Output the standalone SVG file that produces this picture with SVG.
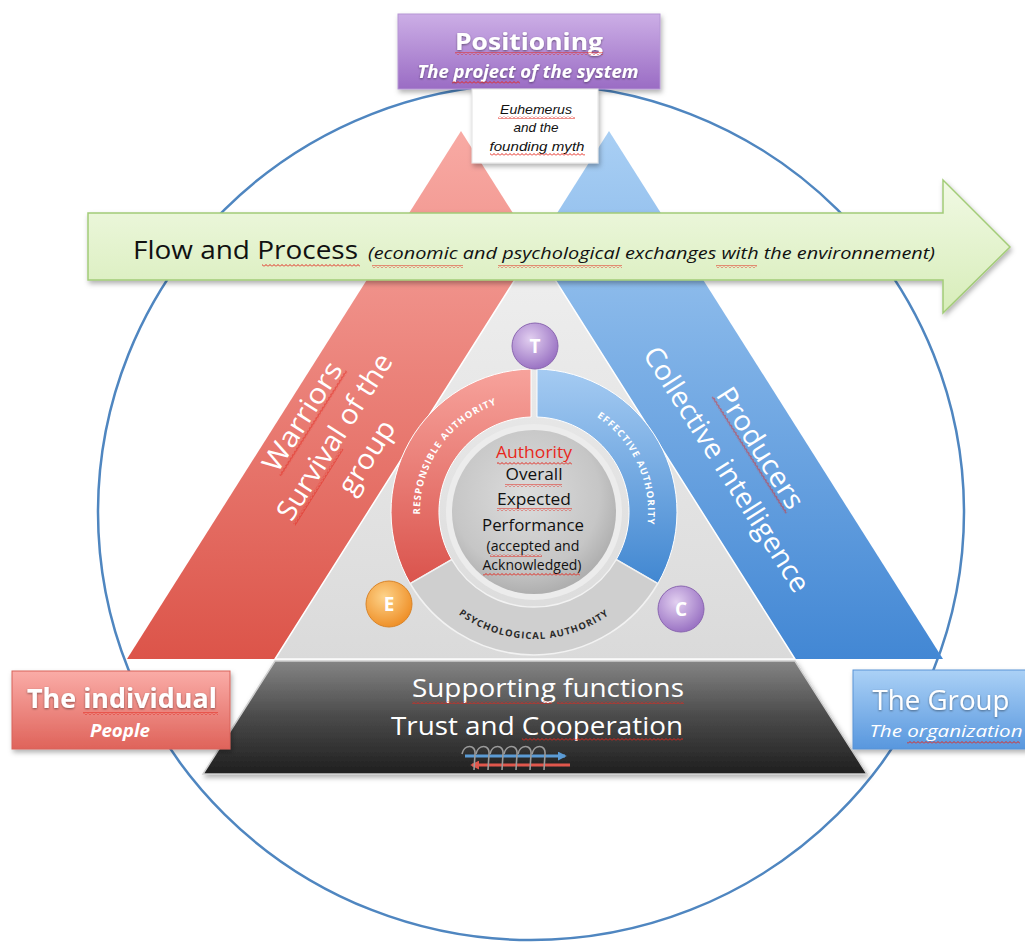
<svg xmlns="http://www.w3.org/2000/svg" width="1025" height="944" viewBox="0 0 1025 944">
  <defs>
    <style>
      .sans { font-family: "Open Sans", "Liberation Sans", sans-serif; }
      .arial { font-family: "Liberation Sans", Arial, sans-serif; }
      .wt { fill: #ffffff; }
      .bk { fill: #111111; }
      .arcTxt { font-family: "Open Sans", "Liberation Sans", sans-serif; font-weight: 700; font-size: 9.5px; letter-spacing: 1.1px; }
    </style>
    <pattern id="sq" width="4" height="3" patternUnits="userSpaceOnUse">
      <path d="M0,2.5 L2,0.5 L4,2.5" fill="none" stroke="#e3261c" stroke-width="1"/>
    </pattern>
    <filter id="sh" x="-10%" y="-15%" width="125%" height="140%">
      <feDropShadow dx="1.5" dy="3" stdDeviation="2.5" flood-color="#000" flood-opacity="0.3"/>
    </filter>
    <filter id="tg" x="-5%" y="-20%" width="110%" height="150%">
      <feDropShadow dx="0" dy="1" stdDeviation="0.8" flood-color="#000" flood-opacity="0.45"/>
    </filter>
    <linearGradient id="gRed" x1="0" y1="131" x2="0" y2="660" gradientUnits="userSpaceOnUse">
      <stop offset="0" stop-color="#f8aaa4"/>
      <stop offset="1" stop-color="#dc5449"/>
    </linearGradient>
    <linearGradient id="gBlue" x1="0" y1="131" x2="0" y2="660" gradientUnits="userSpaceOnUse">
      <stop offset="0" stop-color="#a9cff4"/>
      <stop offset="1" stop-color="#4287d4"/>
    </linearGradient>
    <linearGradient id="gGray" x1="0" y1="248" x2="0" y2="660" gradientUnits="userSpaceOnUse">
      <stop offset="0" stop-color="#efefef"/>
      <stop offset="1" stop-color="#dadada"/>
    </linearGradient>
    <linearGradient id="gDark" x1="0" y1="660" x2="0" y2="774" gradientUnits="userSpaceOnUse">
      <stop offset="0" stop-color="#858585"/>
      <stop offset="0.5" stop-color="#4a4a4a"/>
      <stop offset="1" stop-color="#1f1f1f"/>
    </linearGradient>
    <linearGradient id="gArrow" x1="0" y1="180" x2="0" y2="313" gradientUnits="userSpaceOnUse">
      <stop offset="0" stop-color="#f1f9e4"/>
      <stop offset="1" stop-color="#d7edb9"/>
    </linearGradient>
    <linearGradient id="gPurple" x1="0" y1="0" x2="0" y2="1">
      <stop offset="0" stop-color="#ccaee6"/>
      <stop offset="1" stop-color="#9a6cc4"/>
    </linearGradient>
    <linearGradient id="gRedBox" x1="0" y1="0" x2="0" y2="1">
      <stop offset="0" stop-color="#faaca7"/>
      <stop offset="1" stop-color="#df635a"/>
    </linearGradient>
    <linearGradient id="gBlueBox" x1="0" y1="0" x2="0" y2="1">
      <stop offset="0" stop-color="#abd1f6"/>
      <stop offset="1" stop-color="#5897de"/>
    </linearGradient>
    <linearGradient id="gRedArc" x1="0" y1="369" x2="0" y2="590" gradientUnits="userSpaceOnUse">
      <stop offset="0" stop-color="#f7a39c"/>
      <stop offset="1" stop-color="#d9514a"/>
    </linearGradient>
    <linearGradient id="gBlueArc" x1="0" y1="369" x2="0" y2="590" gradientUnits="userSpaceOnUse">
      <stop offset="0" stop-color="#a5cbf2"/>
      <stop offset="1" stop-color="#3e85d0"/>
    </linearGradient>
    <radialGradient id="gDisk" cx="0.45" cy="0.4" r="0.6">
      <stop offset="0" stop-color="#dcdcdc"/>
      <stop offset="0.75" stop-color="#c6c6c6"/>
      <stop offset="1" stop-color="#afafaf"/>
    </radialGradient>
    <radialGradient id="gPurpleBall" cx="0.4" cy="0.35" r="0.65">
      <stop offset="0" stop-color="#e2cff0"/>
      <stop offset="1" stop-color="#9b74c4"/>
    </radialGradient>
    <radialGradient id="gOrangeBall" cx="0.4" cy="0.35" r="0.65">
      <stop offset="0" stop-color="#fdd38a"/>
      <stop offset="1" stop-color="#ef912a"/>
    </radialGradient>
    <marker id="ahBlue" viewBox="0 0 10 10" refX="8" refY="5" markerWidth="3" markerHeight="3" orient="auto">
      <path d="M0,0 L10,5 L0,10 Z" fill="#5b9bd5"/>
    </marker>
    <marker id="ahRed" viewBox="0 0 10 10" refX="8" refY="5" markerWidth="3" markerHeight="3" orient="auto">
      <path d="M0,0 L10,5 L0,10 Z" fill="#e0574c"/>
    </marker>
    <!-- text paths for the ring labels -->
    <path id="pRed" d="M440.6,577.4 A114,114 0 0 1 563.5,401.9"/>
    <path id="pBlue" d="M534,398 A114,114 0 0 1 621.3,585.3"/>
    <path id="pPsy" d="M424,575.5 A127,127 0 0 0 644,575.5"/>
  </defs>

  <rect width="1025" height="944" fill="#ffffff"/>

  <!-- outer environment circle -->
  <ellipse cx="531" cy="512" rx="433" ry="428" fill="none" stroke="#4f86c0" stroke-width="2.5"/>

  <!-- Warriors band -->
  <g id="warriors">
    <polygon points="461,131 127,659 795,659" fill="url(#gRed)"/>
  </g>

  <!-- Producers band -->
  <g id="producers">
    <polygon points="609,131 275,659 943,659" fill="url(#gBlue)"/>
  </g>

  <!-- central authority triangle -->
  <g id="core-triangle">
    <polygon points="535,248 275,659 795,659" fill="url(#gGray)" stroke="#ffffff" stroke-width="1.5"/>
  </g>

  <!-- Flow and Process arrow -->
  <g id="flow">
    <path d="M88,213 H943 V180 L1010,247 L943,313 V280 H88 Z" fill="url(#gArrow)" stroke="#a3cc78" stroke-width="1.5" filter="url(#sh)"/>
    <text class="sans bk" x="133" y="259" font-size="25" textLength="225" lengthAdjust="spacingAndGlyphs">Flow and Process</text>
    <text class="sans bk" x="368" y="259" font-size="16.5" font-style="italic" textLength="567" lengthAdjust="spacingAndGlyphs">(economic and psychological exchanges with the environnement)</text>
    <rect x="262" y="264" width="98" height="3" fill="url(#sq)"/>
    <rect x="372" y="265" width="91" height="3" fill="url(#sq)"/>
    <rect x="498" y="265" width="124" height="3" fill="url(#sq)"/>
    <rect x="716" y="265" width="41" height="3" fill="url(#sq)"/>
  </g>

  <!-- band labels -->
  <g id="warriors-label" transform="translate(335,437) rotate(-57.7)">
    <text class="sans wt" x="0" y="-29" font-size="28" text-anchor="middle" textLength="124" lengthAdjust="spacingAndGlyphs">Warriors</text>
    <text class="sans wt" x="0" y="9" font-size="28" text-anchor="middle" textLength="191" lengthAdjust="spacingAndGlyphs">Survival of the</text>
    <text class="sans wt" x="0" y="47" font-size="28" text-anchor="middle" textLength="82" lengthAdjust="spacingAndGlyphs">group</text>
    <rect x="-62" y="-27" width="124" height="3" fill="url(#sq)"/>
    <rect x="-96" y="11" width="90" height="3" fill="url(#sq)"/>
  </g>
  <g id="producers-label" transform="translate(743,459) rotate(57.6)">
    <text class="sans wt" x="0" y="-11" font-size="28" text-anchor="middle" textLength="138" lengthAdjust="spacingAndGlyphs">Producers</text>
    <text class="sans wt" x="0" y="29" font-size="28" text-anchor="middle" textLength="285" lengthAdjust="spacingAndGlyphs">Collective intelligence</text>
    <rect x="-69" y="-9" width="138" height="3" fill="url(#sq)"/>
  </g>

  <!-- Supporting functions base -->
  <g id="supporting">
    <polygon points="275,661 795,661 867,774 203,774" fill="url(#gDark)" stroke="#d0d0d0" stroke-width="1.5" filter="url(#sh)"/>
    <text class="sans wt" x="412" y="697" font-size="26" textLength="272" lengthAdjust="spacingAndGlyphs">Supporting functions</text>
    <text class="sans wt" x="391" y="735" font-size="26" textLength="292" lengthAdjust="spacingAndGlyphs">Trust and Cooperation</text>
    <rect x="412" y="701" width="140" height="3" fill="url(#sq)"/>
    <rect x="557" y="701" width="127" height="3" fill="url(#sq)"/>
    <rect x="522" y="738" width="161" height="3" fill="url(#sq)"/>
    <!-- exchange icon -->
    <line x1="465" y1="756" x2="565" y2="756" stroke="#5b9bd5" stroke-width="3" marker-end="url(#ahBlue)"/>
    <line x1="570" y1="765" x2="472" y2="765" stroke="#e0574c" stroke-width="3" marker-end="url(#ahRed)"/>
    <g fill="none" stroke="#9a9a9a" stroke-width="1.6">
      <path d="M462,754 C464,744 476,744 475,754 L474,770"/>
      <path d="M476,754 C478,744 490,744 489,754 L488,770"/>
      <path d="M490,754 C492,744 504,744 503,754 L502,770"/>
      <path d="M504,754 C506,744 518,744 517,754 L516,770"/>
      <path d="M518,754 C520,744 532,744 531,754 L530,770"/>
      <path d="M532,754 C534,744 546,744 545,754 L544,770"/>
    </g>
  </g>

  <!-- authority ring -->
  <g id="ring">
    <path d="M531,369 A143,143 0 0 0 410.2,583.5 L451.7,559.5 A95,95 0 0 1 531,417 Z" fill="url(#gRedArc)" stroke="#ffffff" stroke-width="1"/>
    <path d="M537,369 A143,143 0 0 1 657.8,583.5 L616.3,559.5 A95,95 0 0 0 537,417 Z" fill="url(#gBlueArc)" stroke="#ffffff" stroke-width="1"/>
    <path d="M410.2,583.5 A143,143 0 0 0 657.8,583.5 L616.3,559.5 A95,95 0 0 1 451.7,559.5 Z" fill="#cfcfcf" stroke="#f2f2f2" stroke-width="1.5"/>
    <text class="arcTxt wt"><textPath href="#pRed" startOffset="50%" text-anchor="middle">RESPONSIBLE AUTHORITY</textPath></text>
    <text class="arcTxt wt"><textPath href="#pBlue" startOffset="50%" text-anchor="middle">EFFECTIVE AUTHORITY</textPath></text>
    <text class="arcTxt" fill="#2a2a2a" font-size="8.5" letter-spacing="0.5"><textPath href="#pPsy" startOffset="50%" text-anchor="middle">PSYCHOLOGICAL AUTHORITY</textPath></text>
  </g>

  <!-- central performance disk -->
  <g id="performance">
    <circle cx="534" cy="512" r="88" fill="#ececec"/>
    <circle cx="534" cy="512" r="82" fill="url(#gDisk)"/>
    <text class="sans" x="534" y="458" font-size="17" text-anchor="middle" fill="#e8281c" textLength="76" lengthAdjust="spacingAndGlyphs">Authority</text>
    <text class="sans bk" x="534" y="480" font-size="17" text-anchor="middle" textLength="57" lengthAdjust="spacingAndGlyphs">Overall</text>
    <text class="sans bk" x="534" y="505" font-size="17" text-anchor="middle" textLength="74" lengthAdjust="spacingAndGlyphs">Expected</text>
    <text class="sans bk" x="533" y="531" font-size="17" text-anchor="middle" textLength="102" lengthAdjust="spacingAndGlyphs">Performance</text>
    <text class="sans bk" x="533" y="551" font-size="14" text-anchor="middle" textLength="93" lengthAdjust="spacingAndGlyphs">(accepted and</text>
    <text class="sans bk" x="532" y="570" font-size="14" text-anchor="middle" textLength="99" lengthAdjust="spacingAndGlyphs">Acknowledged)</text>
    <rect x="497" y="462" width="75" height="3" fill="url(#sq)"/>
    <rect x="505" y="484" width="57" height="3" fill="url(#sq)"/>
    <rect x="497" y="508" width="75" height="3" fill="url(#sq)"/>
    <rect x="490" y="554" width="52" height="3" fill="url(#sq)"/>
    <rect x="483" y="573" width="97" height="3" fill="url(#sq)"/>
  </g>

  <!-- T / E / C markers -->
  <g id="node-t">
    <circle cx="535" cy="346" r="23" fill="url(#gPurpleBall)" stroke="#8a66b0" stroke-width="1"/>
    <text class="sans wt" x="535" y="353" font-size="19" font-weight="700" text-anchor="middle">T</text>
  </g>
  <g id="node-e">
    <circle cx="389" cy="604" r="23" fill="url(#gOrangeBall)" stroke="#d98428" stroke-width="1"/>
    <text class="sans wt" x="389" y="611" font-size="19" font-weight="700" text-anchor="middle">E</text>
  </g>
  <g id="node-c">
    <circle cx="681" cy="609" r="23" fill="url(#gPurpleBall)" stroke="#8a66b0" stroke-width="1"/>
    <text class="sans wt" x="681" y="616" font-size="19" font-weight="700" text-anchor="middle">C</text>
  </g>

  <!-- Positioning header -->
  <g id="positioning">
    <rect x="398" y="14" width="262" height="75" fill="url(#gPurple)" stroke="#b596d4" stroke-width="1" filter="url(#sh)"/>
    <text class="sans wt" x="529" y="50" font-size="24" font-weight="700" text-anchor="middle" textLength="148" lengthAdjust="spacingAndGlyphs" filter="url(#tg)">Positioning</text>
    <text class="sans wt" x="528" y="78" font-size="17" font-weight="700" font-style="italic" text-anchor="middle" textLength="221" lengthAdjust="spacingAndGlyphs" filter="url(#tg)">The project of the system</text>
    <rect x="455" y="52" width="148" height="3" fill="url(#sq)"/>
    <rect x="452" y="81" width="68" height="3" fill="url(#sq)"/>
  </g>

  <!-- founding myth note -->
  <g id="euhemerus">
    <rect x="472" y="89" width="126" height="74" fill="#ffffff" stroke="#e2e2e2" stroke-width="1" filter="url(#sh)"/>
    <text class="arial bk" x="536" y="114" font-size="13.5" font-style="italic" text-anchor="middle" textLength="72" lengthAdjust="spacingAndGlyphs">Euhemerus</text>
    <text class="arial bk" x="536" y="132" font-size="13.5" font-style="italic" text-anchor="middle">and the</text>
    <text class="arial bk" x="537" y="151" font-size="13.5" font-style="italic" text-anchor="middle" textLength="95" lengthAdjust="spacingAndGlyphs">founding myth</text>
    <rect x="498" y="116" width="77" height="3" fill="url(#sq)"/>
    <rect x="490" y="153" width="95" height="3" fill="url(#sq)"/>
  </g>

  <!-- The individual -->
  <g id="individual">
    <rect x="12" y="671" width="218" height="78" fill="url(#gRedBox)" stroke="#d8625a" stroke-width="1" filter="url(#sh)"/>
    <text class="sans wt" x="122" y="708" font-size="26" font-weight="700" text-anchor="middle" textLength="190" lengthAdjust="spacingAndGlyphs" filter="url(#tg)">The individual</text>
    <text class="sans wt" x="120" y="737" font-size="17" font-weight="700" font-style="italic" text-anchor="middle" textLength="60" lengthAdjust="spacingAndGlyphs">People</text>
    <rect x="83" y="712" width="135" height="3" fill="url(#sq)"/>
  </g>

  <!-- The Group -->
  <g id="group">
    <rect x="853" y="670" width="180" height="79" fill="url(#gBlueBox)" stroke="#5a93d6" stroke-width="1" filter="url(#sh)"/>
    <text class="sans wt" x="941" y="710" font-size="27" text-anchor="middle" textLength="137" lengthAdjust="spacingAndGlyphs" filter="url(#tg)">The Group</text>
    <text class="sans wt" x="946" y="737" font-size="17" font-style="italic" text-anchor="middle" textLength="153" lengthAdjust="spacingAndGlyphs">The organization</text>
    <rect x="907" y="741" width="113" height="3" fill="url(#sq)"/>
  </g>
</svg>
